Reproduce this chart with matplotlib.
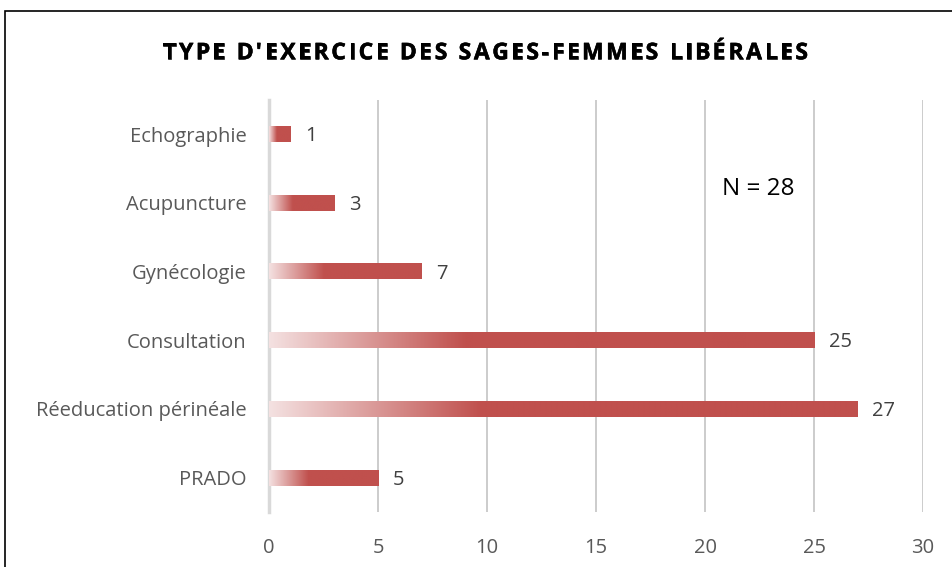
import matplotlib.pyplot as plt
import matplotlib.patheffects as pe
import numpy as np
from matplotlib.colors import LinearSegmentedColormap
from matplotlib.patches import Rectangle

categories = ["PRADO", "Réeducation périnéale", "Consultation", "Gynécologie", "Acupuncture", "Echographie"]
values = [5, 27, 25, 7, 3, 1]
x_ticks = [0, 5, 10, 15, 20, 25, 30]
title = "TYPE D'EXERCICE DES SAGES-FEMMES LIBÉRALES"
note = "N = 28"

plt.rcParams["font.family"] = ["Open Sans", "DejaVu Sans"]

fig = plt.figure(figsize=(9.52, 5.67), dpi=100)
ax = fig.add_axes([0.2826, 0.097, 0.687, 0.727])

# gradient fill: pale pink at the base, solid red from ~35% of the bar onward
cmap = LinearSegmentedColormap.from_list(
    "bar", [(0.0, "#F4E1E1"), (0.36, "#C0504D"), (1.0, "#C0504D")]
)
grad = np.linspace(0, 1, 256).reshape(1, -1)
bar_h = 0.23
for i, v in enumerate(values):
    ax.imshow(grad, cmap=cmap, aspect="auto", interpolation="bilinear",
              extent=[0, v, i - bar_h / 2, i + bar_h / 2], zorder=3)
    ax.text(v + 0.68, i - 0.03, str(v), va="center", ha="left",
            fontsize=14.5, color="#404040")

ax.set_xlim(0, 30)
ax.set_ylim(-0.5, len(categories) - 0.5)
ax.set_xticks(x_ticks)
ax.set_yticks(range(len(categories)))
ax.set_yticklabels(categories)
ax.tick_params(axis="both", length=0, labelsize=14.5, colors="#595959")
ax.tick_params(axis="y", pad=16)
ax.tick_params(axis="x", pad=19)
ax.grid(axis="x", color="#C8C8C8", linewidth=1.3, zorder=0)
ax.set_axisbelow(True)
for s in ["top", "right", "bottom"]:
    ax.spines[s].set_visible(False)
ax.spines["left"].set_color("#D9D9D9")
ax.spines["left"].set_linewidth(2.5)

ax.text(20.8, 4.2, note, fontsize=17.5, color="black", va="center", ha="left")

# title with letter spacing (matplotlib has no tracking option, so place glyphs one by one)
renderer = fig.canvas.get_renderer()
tprops = dict(fontsize=16.5, fontweight="bold", color="black")


def text_w(s):
    t = fig.text(0, 0, s, **tprops)
    w = t.get_window_extent(renderer).width
    t.remove()
    return w


ref_w = text_w("X")
offsets = [text_w(title[:i] + "X") - ref_w if i else 0.0 for i in range(len(title))]
natural_w = text_w(title)
target_w = 645.0
track = (target_w - natural_w) / (len(title) - 1)
x0 = 485.5 - target_w / 2
heavy = [pe.withStroke(linewidth=0.4, foreground="black")]
for i, ch in enumerate(title):
    if ch == " ":
        continue
    fig.text((x0 + offsets[i] + i * track) / 952, 0.906, ch, ha="left", va="center",
             path_effects=heavy, **tprops)

# chart border, cut at the right and bottom edges as in the original
fig.patches.append(Rectangle((5 / 952, -0.05), 1.0, 1 - 11 / 567 + 0.05,
                             transform=fig.transFigure, fill=False,
                             edgecolor="black", linewidth=1.2))

fig.savefig("out.png", dpi=100)
